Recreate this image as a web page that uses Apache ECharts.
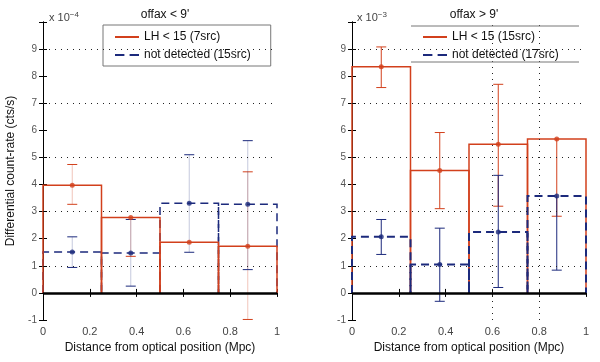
<!DOCTYPE html>
<html>
<head>
<meta charset="utf-8">
<script src="https://cdn.jsdelivr.net/npm/echarts@6/dist/echarts.min.js"></script>
<style>
  html, body { margin: 0; padding: 0; background: #fff; }
  #main { width: 600px; height: 362px; }
</style>
</head>
<body>
<div id="main"></div>
<script>
// bin edges (Mpc)
const binEdges = [0, 0.25, 0.5, 0.75, 1.0]
const xTicks = [0, 0.2, 0.4, 0.6, 0.8, 1]

// left panel: offax < 9'
const leftRed = [3.97, 2.78, 1.87, 1.72]
const leftRedLo = [3.27, 1.35, null, -0.98]
const leftRedHi = [4.74, null, null, 4.47]
const leftBlue = [1.51, 1.47, 3.31, 3.27]
const leftBlueLo = [0.94, 0.25, 1.50, 0.86]
const leftBlueHi = [2.07, 2.71, 5.10, 5.62]

// right panel: offax > 9'
const rightRed = [8.35, 4.52, 5.49, 5.68]
const rightRedLo = [7.58, 3.11, 3.20, 2.83]
const rightRedHi = [9.08, 5.92, 7.70, null]
const rightBlue = [2.07, 1.05, 2.25, 3.58]
const rightBlueLo = [1.42, -0.31, 0.20, 0.84]
const rightBlueHi = [2.71, 2.39, 4.34, null]

// dotted grid lines
const gridY = [1, 3, 5, 7, 9]
const rightGridX = [0.6, 0.8]

const RED = '#d2401c'
const BLUE = '#1c2a7c'
const FONT = 'Liberation Sans'

const chart = echarts.init(document.getElementById('main'))

// bins -> [x0, x1, value]
const binData = vals => vals.map((v, i) => [binEdges[i], binEdges[i + 1], v])
// error bars -> [xc, lo, hi, hasLo, hasHi]
const errData = (vals, lo, hi) => vals.map((v, i) => [
  (binEdges[i] + binEdges[i + 1]) / 2,
  lo[i] == null ? v : lo[i],
  hi[i] == null ? v : hi[i],
  lo[i] == null ? 0 : 1,
  hi[i] == null ? 0 : 1
])
const pointData = vals => vals.map((v, i) => [(binEdges[i] + binEdges[i + 1]) / 2, v])

function stepSeries(name, idx, vals, color, dash, width) {
  return {
    name: name,
    type: 'custom',
    xAxisIndex: idx, yAxisIndex: idx * 2,
    itemStyle: {color: color},
    data: binData(vals),
    renderItem: (params, api) => {
      const x0 = api.value(0), x1 = api.value(1), v = api.value(2)
      return {
        type: 'polyline',
        shape: {points: [api.coord([x0, 0]), api.coord([x0, v]), api.coord([x1, v]), api.coord([x1, 0])]},
        style: {fill: null, stroke: color, lineWidth: width, lineDash: dash}
      }
    },
    z: 3
  }
}

function errSeries(name, idx, vals, lo, hi, color, lineColor) {
  return {
    name: name,
    type: 'custom',
    xAxisIndex: idx, yAxisIndex: idx * 2,
    itemStyle: {color: color},
    data: errData(vals, lo, hi),
    renderItem: (params, api) => {
      const x = api.value(0)
      const pLo = api.coord([x, api.value(1)])
      const pHi = api.coord([x, api.value(2)])
      const kids = [{
        type: 'line',
        shape: {x1: pLo[0], y1: pLo[1], x2: pHi[0], y2: pHi[1]},
        style: {stroke: lineColor, lineWidth: 1}
      }]
      if (api.value(3)) kids.push({type: 'line', shape: {x1: pLo[0] - 5, y1: pLo[1], x2: pLo[0] + 5, y2: pLo[1]}, style: {stroke: color, lineWidth: 1}})
      if (api.value(4)) kids.push({type: 'line', shape: {x1: pHi[0] - 5, y1: pHi[1], x2: pHi[0] + 5, y2: pHi[1]}, style: {stroke: color, lineWidth: 1}})
      return {type: 'group', children: kids}
    },
    z: 4
  }
}

function pointSeries(name, idx, vals, color) {
  return {
    name: name,
    type: 'scatter',
    xAxisIndex: idx, yAxisIndex: idx * 2,
    symbolSize: 5,
    itemStyle: {color: color},
    data: pointData(vals),
    z: 5
  }
}

function gridSeries(idx, vlines) {
  const lines = gridY.map(y => ({yAxis: y}))
  vlines.forEach(x => lines.push({xAxis: x}))
  return [{
    type: 'line', xAxisIndex: idx, yAxisIndex: idx * 2, data: [],
    markLine: {
      silent: true, symbol: 'none', label: {show: false},
      lineStyle: {color: '#222', type: [1, 5], width: 1},
      data: lines
    },
    z: 1
  }, {
    type: 'line', xAxisIndex: idx, yAxisIndex: idx * 2, data: [],
    markLine: {
      silent: true, symbol: 'none', label: {show: false},
      lineStyle: {color: '#000', type: 'solid', width: 2.5},
      data: [{yAxis: 0}]
    },
    z: 6
  }]
}

const xAxisBase = idx => ({
  type: 'value', gridIndex: idx, min: 0, max: 1, interval: 0.2,
  name: 'Distance from optical position (Mpc)',
  nameLocation: 'middle', nameGap: 20,
  nameTextStyle: {fontFamily: FONT, fontSize: 12, color: '#111'},
  axisLine: {lineStyle: {color: '#000', width: 1}},
  axisTick: {inside: true, length: 4, lineStyle: {color: '#000'}},
  axisLabel: {fontFamily: FONT, fontSize: 11, color: '#444', margin: 6,
    formatter: v => xTicks.includes(Math.round(v * 10) / 10) ? String(Math.round(v * 10) / 10) : ''},
  splitLine: {show: false}
})

const xAxisTop = idx => ({
  type: 'value', gridIndex: idx, min: 0, max: 1, interval: 0.2, position: 'top',
  axisLine: {show: false},
  axisTick: {inside: true, length: 4, lineStyle: {color: '#000'}},
  axisLabel: {show: false}, splitLine: {show: false}
})

const yAxisLeft = (idx, name) => ({
  type: 'value', gridIndex: idx, min: -1, max: 10, interval: 1,
  name: name, nameLocation: 'middle', nameGap: 26,
  nameTextStyle: {fontFamily: FONT, fontSize: 12, color: '#111'},
  axisLine: {show: true, lineStyle: {color: '#000', width: 1}},
  axisTick: {show: true, inside: true, length: 4, lineStyle: {color: '#000'}},
  axisLabel: {fontFamily: FONT, fontSize: 10, color: '#555', margin: 6,
    formatter: v => v === 10 ? '' : String(v)},
  splitLine: {show: false}
})

const yAxisRight = idx => ({
  type: 'value', gridIndex: idx, min: -1, max: 10, interval: 1, position: 'right',
  axisLine: {show: true, lineStyle: {color: '#000', width: 1}},
  axisTick: {show: true, inside: true, length: 4, lineStyle: {color: '#000'}},
  axisLabel: {show: false}, splitLine: {show: false}
})

const legendCommon = {
  orient: 'vertical',
  itemWidth: 24, itemHeight: 3, itemGap: 6,
  textStyle: {fontFamily: FONT, fontSize: 12, color: '#111'}
}
const solidIcon = 'path://M0,0h24v2h-24z'
const dashIcon = 'path://M0,0h9v2h-9z M14,0h9v2h-9z'

const option = {
  animation: false,
  backgroundColor: '#fff',
  grid: [
    {left: 43, top: 22, width: 234, height: 298},
    {left: 352, top: 22, width: 234, height: 298}
  ],
  title: [
    {text: "offax < 9'", left: 160, top: 4, textAlign: 'center',
      textStyle: {fontFamily: FONT, fontSize: 12, fontWeight: 'normal', color: '#111'}},
    {text: "offax > 9'", left: 469, top: 4, textAlign: 'center',
      textStyle: {fontFamily: FONT, fontSize: 12, fontWeight: 'normal', color: '#111'}},
    {text: 'x 10{s|−4}', left: 44, top: 6,
      textStyle: {fontFamily: FONT, fontSize: 11, fontWeight: 'normal', color: '#444',
        rich: {s: {fontSize: 8, verticalAlign: 'top', color: '#444', padding: [0, 0, 6, 0]}}}},
    {text: 'x 10{s|−3}', left: 352, top: 6,
      textStyle: {fontFamily: FONT, fontSize: 11, fontWeight: 'normal', color: '#444',
        rich: {s: {fontSize: 8, verticalAlign: 'top', color: '#444', padding: [0, 0, 6, 0]}}}}
  ],
  legend: [
    Object.assign({}, legendCommon, {
      left: 103, top: 25, padding: [6, 20, 5, 12],
      backgroundColor: '#fff', borderColor: '#777', borderWidth: 1,
      data: [{name: 'LH < 15 (7src)', icon: solidIcon}, {name: 'not detected (15src)', icon: dashIcon}]
    }),
    Object.assign({}, legendCommon, {
      left: 411, top: 25, padding: [6, 8, 5, 12],
      backgroundColor: '#fff',
      data: [{name: 'LH < 15 (15src)', icon: solidIcon}, {name: 'not detected (17src)', icon: dashIcon}]
    })
  ],
  graphic: [
    {type: 'line', shape: {x1: 411, y1: 26, x2: 579, y2: 26}, style: {stroke: '#777', lineWidth: 1}, z: 100},
    {type: 'line', shape: {x1: 411, y1: 62, x2: 579, y2: 62}, style: {stroke: '#777', lineWidth: 1}, z: 100}
  ],
  xAxis: [xAxisBase(0), xAxisBase(1), xAxisTop(0), xAxisTop(1)],
  yAxis: [
    yAxisLeft(0, 'Differential count-rate (cts/s)'), yAxisRight(0),
    yAxisLeft(1, ''), yAxisRight(1)
  ],
  series: [
    ...gridSeries(0, []),
    ...gridSeries(1, rightGridX),
    stepSeries('not detected (15src)', 0, leftBlue, BLUE, [8, 5], 1.5),
    stepSeries('LH < 15 (7src)', 0, leftRed, RED, null, 1.5),
    errSeries('LH < 15 (7src)', 0, leftRed, leftRedLo, leftRedHi, RED, 'rgba(210,64,28,0.3)'),
    errSeries('not detected (15src)', 0, leftBlue, leftBlueLo, leftBlueHi, BLUE, 'rgba(28,42,124,0.25)'),
    pointSeries('LH < 15 (7src)', 0, leftRed, RED),
    pointSeries('not detected (15src)', 0, leftBlue, BLUE),
    stepSeries('LH < 15 (15src)', 1, rightRed, RED, null, 1.5),
    stepSeries('not detected (17src)', 1, rightBlue, BLUE, [8, 5], 2),
    errSeries('LH < 15 (15src)', 1, rightRed, rightRedLo, rightRedHi, RED, RED),
    errSeries('not detected (17src)', 1, rightBlue, rightBlueLo, rightBlueHi, BLUE, BLUE),
    pointSeries('LH < 15 (15src)', 1, rightRed, RED),
    pointSeries('not detected (17src)', 1, rightBlue, BLUE)
  ]
}

chart.setOption(option)
window.addEventListener('resize', () => chart.resize())
</script>
</body>
</html>
